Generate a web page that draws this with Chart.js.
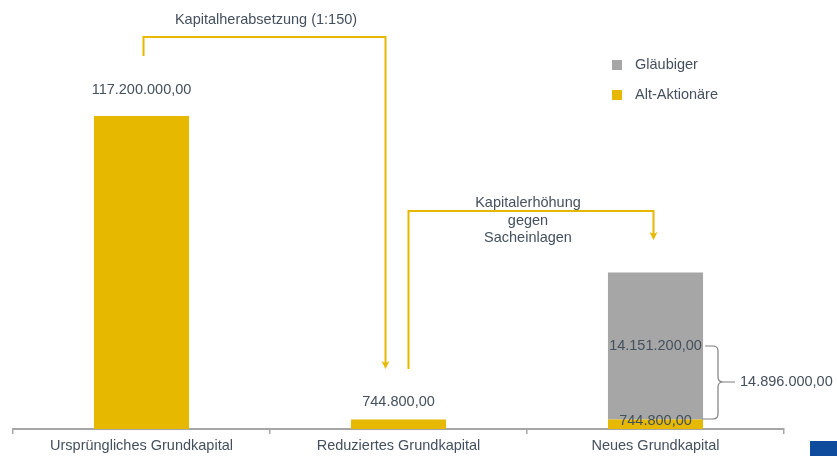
<!DOCTYPE html>
<html lang="de">
<head>
<meta charset="utf-8">
<script src="https://cdn.jsdelivr.net/npm/chart.js@4"></script>
<style>
  body { margin: 0; background: #fff; }
  #wrap { width: 837px; height: 456px; position: relative; }
</style>
</head>
<body>
<div id="wrap"><canvas id="grafico"></canvas></div>
<script>
// kategorien der x-achse
const kategorien = ["Ursprüngliches Grundkapital", "Reduziertes Grundkapital", "Neues Grundkapital"];

// tatsächliche beträge (nur für die beschriftung)
const betragAktionaere = [117200000, 744800, 744800];
const betragGlaeubiger = [0, 0, 14151200];

// die grafik ist schematisch, nicht maßstabsgetreu: höhen in % der ersten säule
const hoeheAktionaere = [100, 3, 3];
const hoeheGlaeubiger = [0, 0, 47];

const textKapitalherabsetzung = "Kapitalherabsetzung (1:150)";
const textKapitalerhoehung = ["Kapitalerhöhung", "gegen", "Sacheinlagen"];

const gelb = "#E6B800";
const grau = "#A6A6A6";
const textFarbe = "#44505E";
const familie = '"Liberation Sans", Arial, sans-serif';
const schrift = '14.5px ' + familie;

// zahl im deutschen format mit zwei nachkommastellen
function formatDE(n) {
    const [ganz, dez] = n.toFixed(2).split(".");
    return ganz.replace(/\B(?=(\d{3})+(?!\d))/g, ".") + "," + dez;
}

// zeichnet pfeile, klammer, beschriftungen und legende
const annotationen = {
    id: "annotationen",
    afterDatasetsDraw(chart) {
        const ctx = chart.ctx;
        const gelbMeta = chart.getDatasetMeta(1);
        const grauMeta = chart.getDatasetMeta(0);
        const b1 = gelbMeta.data[0], b2 = gelbMeta.data[1], b3 = gelbMeta.data[2];
        const g3 = grauMeta.data[2];

        ctx.save();
        ctx.font = schrift;
        ctx.fillStyle = textFarbe;
        ctx.textAlign = "center";
        ctx.textBaseline = "middle";

        // wertbeschriftungen
        ctx.fillText(formatDE(betragAktionaere[0]), b1.x, b1.y - 26);
        ctx.fillText(formatDE(betragAktionaere[1]), b2.x, b2.y - 18);
        ctx.fillText(formatDE(betragAktionaere[2]), b3.x, b3.y + 1);
        ctx.fillText(formatDE(betragGlaeubiger[2]), g3.x, 346);

        // pfeil 1: kapitalherabsetzung
        ctx.strokeStyle = gelb;
        ctx.lineWidth = 2;
        ctx.beginPath();
        ctx.moveTo(b1.x + 2, 56);
        ctx.lineTo(b1.x + 2, 37);
        ctx.lineTo(b2.x - 13, 37);
        ctx.lineTo(b2.x - 13, 364);
        ctx.stroke();
        pfeilspitze(ctx, b2.x - 13, 369);

        ctx.fillText(textKapitalherabsetzung, 266, 20);

        // pfeil 2: kapitalerhöhung
        ctx.beginPath();
        ctx.moveTo(b2.x + 10, 369);
        ctx.lineTo(b2.x + 10, 211);
        ctx.lineTo(b3.x - 2, 211);
        ctx.lineTo(b3.x - 2, 235);
        ctx.stroke();
        pfeilspitze(ctx, b3.x - 2, 240);

        textKapitalerhoehung.forEach((t, i) => ctx.fillText(t, 528, 203 + i * 17.5));

        // geschweifte klammer
        const rechts = b3.x + b3.width / 2;
        ctx.strokeStyle = "#7F7F7F";
        ctx.lineWidth = 1.2;
        ctx.beginPath();
        ctx.moveTo(rechts + 2, 346);
        ctx.lineTo(713, 346);
        ctx.quadraticCurveTo(718, 346, 718, 351);
        ctx.lineTo(718, 377);
        ctx.quadraticCurveTo(718, 382, 723, 382);
        ctx.lineTo(735, 382);
        ctx.moveTo(723, 382);
        ctx.quadraticCurveTo(718, 382, 718, 387);
        ctx.lineTo(718, 414);
        ctx.quadraticCurveTo(718, 419, 713, 419);
        ctx.lineTo(rechts - 1, 419);
        ctx.stroke();
        ctx.textAlign = "left";
        ctx.fillText(formatDE(betragAktionaere[2] + betragGlaeubiger[2]), 740, 382);

        // legende
        const legende = [["Gläubiger", grau], ["Alt-Aktionäre", gelb]];
        legende.forEach(([name, farbe], i) => {
            const y = 65 + i * 30;
            ctx.fillStyle = farbe;
            ctx.fillRect(612, y - 5, 10, 10);
            ctx.fillStyle = textFarbe;
            ctx.fillText(name, 635, y);
        });

        // blauer block unten rechts
        ctx.fillStyle = "#0F4C9E";
        ctx.fillRect(810, 441, 27, 15);
        ctx.restore();
    }
};

function pfeilspitze(ctx, x, y) {
    ctx.save();
    ctx.fillStyle = gelb;
    ctx.beginPath();
    ctx.moveTo(x, y);
    ctx.lineTo(x - 4, y - 8);
    ctx.lineTo(x, y - 6);
    ctx.lineTo(x + 4, y - 8);
    ctx.closePath();
    ctx.fill();
    ctx.restore();
}

new Chart(document.getElementById("grafico"), {
    type: "bar",
    data: {
        labels: kategorien,
        datasets: [
            { label: "Gläubiger", data: hoeheGlaeubiger, backgroundColor: grau, order: 1 },
            { label: "Alt-Aktionäre", data: hoeheAktionaere, backgroundColor: gelb, order: 0 }
        ]
    },
    options: {
        responsive: true,
        maintainAspectRatio: false,
        animation: false,
        layout: { padding: { left: 13, right: 53, top: 22, bottom: 0 } },
        plugins: { legend: { display: false }, tooltip: { enabled: false } },
        datasets: { bar: { categoryPercentage: 1, barPercentage: 0.37 } },
        scales: {
            x: {
                stacked: true,
                grid: { drawOnChartArea: false, drawTicks: true, tickLength: 5, color: "#A6A6A6", lineWidth: 1.5 },
                border: { color: "#A6A6A6", width: 2 },
                ticks: { color: textFarbe, font: { family: familie, size: 14.5 }, padding: 3 },
                afterFit(scale) { scale.height = 27; }
            },
            y: {
                stacked: true,
                display: false,
                min: 0,
                max: 130
            }
        }
    },
    plugins: [annotationen]
});
</script>
</body>
</html>
